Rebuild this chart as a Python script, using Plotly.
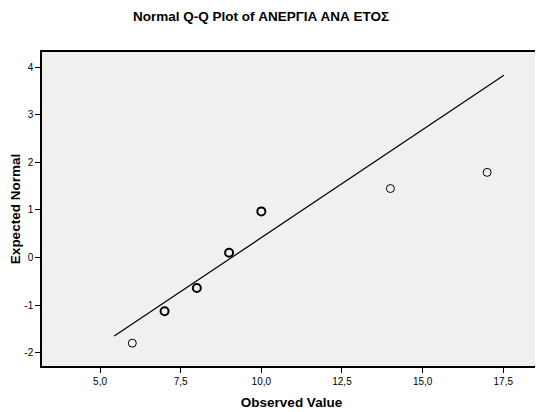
import plotly.graph_objects as go

# Data
observed = [6, 7, 8, 9, 10, 14, 17]
expected = [-1.80, -1.13, -0.64, 0.10, 0.97, 1.45, 1.79]
tied = [False, True, True, True, True, False, False]  # overlapping points drawn bolder

line_x = [5.44, 17.52]
line_y = [-1.65, 3.83]

x_ticks = [5.0, 7.5, 10.0, 12.5, 15.0, 17.5]
x_ticklabels = ["5,0", "7,5", "10,0", "12,5", "15,0", "17,5"]
y_ticks = [-2, -1, 0, 1, 2, 3, 4]
y_ticklabels = ["-2", "-1", "0", "1", "2", "3", "4"]

FONT = "Liberation Sans, Arial, sans-serif"

fig = go.Figure()
fig.add_trace(go.Scatter(
    x=line_x, y=line_y, mode="lines",
    line=dict(color="black", width=1.2), hoverinfo="skip", showlegend=False))
fig.add_trace(go.Scatter(
    x=observed, y=expected, mode="markers",
    marker=dict(symbol="circle-open", size=8, color="black",
                line=dict(color="black", width=[2 if t else 1 for t in tied])),
    showlegend=False))

# The page body has an 8px default margin, so the figure is sized to compensate
fig.update_layout(
    width=535, height=404,
    margin=dict(l=34, r=2, t=44, b=46, autoexpand=False),
    paper_bgcolor="white", plot_bgcolor="#F0F0F0",
    font=dict(family=FONT, color="black"),
    title=dict(text="<b>Normal Q-Q Plot of ΑΝΕΡΓΙΑ ΑΝΑ ΕΤΟΣ</b>",
               x=0.473, xanchor="center", y=0.98, yanchor="middle",
               font=dict(size=13.5, family=FONT)),
    xaxis=dict(range=[3.2, 18.67], tickvals=x_ticks, ticktext=x_ticklabels,
               showgrid=False, zeroline=False, ticks="outside", ticklen=5,
               tickcolor="black", showline=True, linecolor="black", linewidth=1.5,
               mirror=True, tickfont=dict(size=10), automargin=False,
               title=dict(text="<b>Observed Value</b>", font=dict(size=13.5), standoff=12)),
    yaxis=dict(range=[-2.28, 4.32], tickvals=y_ticks, ticktext=y_ticklabels,
               showgrid=False, zeroline=False, ticks="outside", ticklen=5,
               tickcolor="black", showline=True, linecolor="black", linewidth=1.5,
               mirror=True, tickfont=dict(size=10), automargin=False,
               title=dict(text="<b>Expected Normal</b>", font=dict(size=13.5), standoff=5)),
)

fig.write_html("out.html")
